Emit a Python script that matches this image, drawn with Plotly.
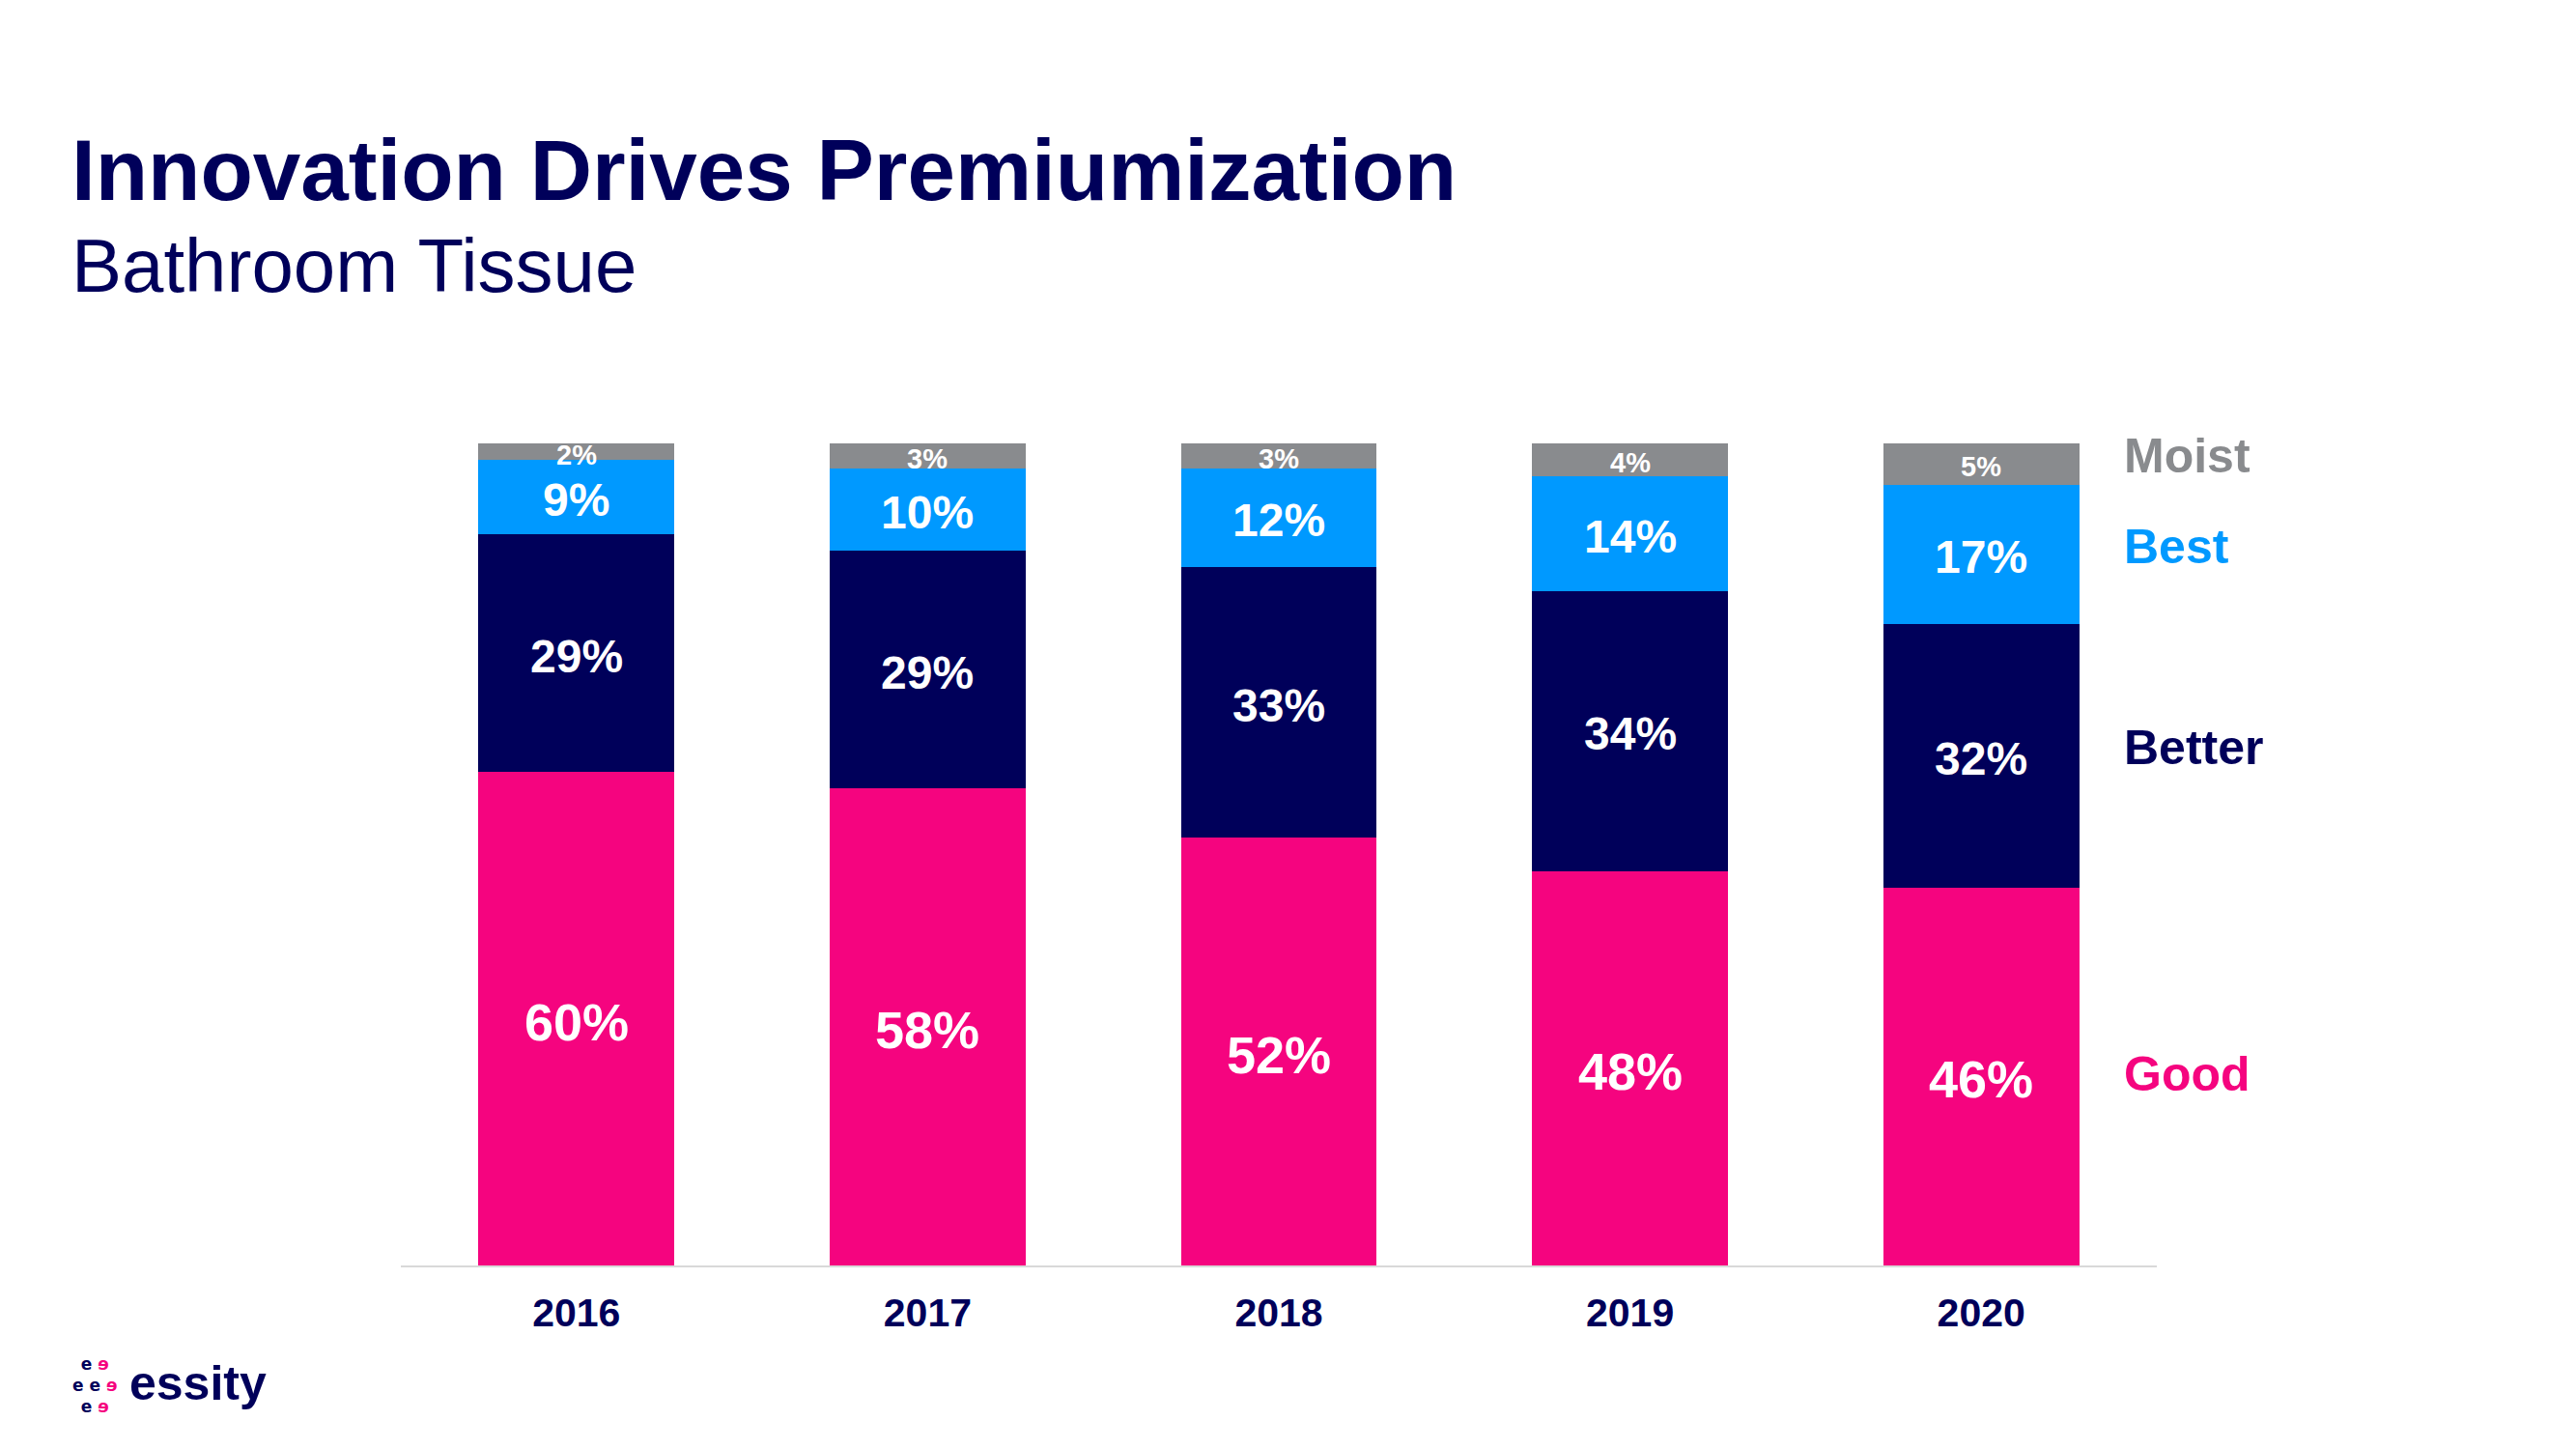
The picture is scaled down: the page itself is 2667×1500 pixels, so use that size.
import plotly.graph_objects as go

years = ["2016", "2017", "2018", "2019", "2020"]
good = [60, 58, 52, 48, 46]
better = [29, 29, 33, 34, 32]
best = [9, 10, 12, 14, 17]
moist = [2, 3, 3, 4, 5]

series_names = ["Good", "Better", "Best", "Moist"]
series_vals = [good, better, best, moist]
colors = ["#F5047F", "#00005A", "#0099FF", "#898B8E"]
label_sizes = [54, 48, 48, 29]
legend_yshift = [2, 8, 8, 8]

# page is offset by the default 8px body margin
OFF = 8
W, H = 2667 - 2 * OFF, 1500 - 2 * OFF
L, T = 415 - OFF, 459 - OFF
PLOT_W, PLOT_H = 1818, 851
R = W - L - PLOT_W
B = H - T - PLOT_H
FONT = "Liberation Sans, Arial, Helvetica, sans-serif"
NAVY = "#00005A"
PINK = "#F5047F"

def px_x(p):
    return (p - OFF - L) / PLOT_W

def px_y(p):
    return (T + PLOT_H - (p - OFF)) / PLOT_H

fig = go.Figure()

# stacked bars
for name, vals, col in zip(series_names, series_vals, colors):
    fig.add_trace(go.Bar(x=years, y=vals, name=name, marker=dict(color=col, line=dict(width=0)),
                         showlegend=False, hoverinfo="skip"))

# value labels at segment centres + right-hand series labels
base = [0] * len(years)
for name, vals, col, fs, ys in zip(series_names, series_vals, colors, label_sizes, legend_yshift):
    mids = [b + v / 2 for b, v in zip(base, vals)]
    for i, (m, v) in enumerate(zip(mids, vals)):
        fig.add_annotation(x=i, y=m, xref="x", yref="y", text=f"<b>{v}%</b>",
                           showarrow=False, xanchor="center", yanchor="middle", yshift=-3,
                           font=dict(family=FONT, size=fs, color="white"))
    fig.add_annotation(x=len(years) - 1, y=mids[-1], xref="x", yref="y", text=f"<b>{name}</b>",
                       showarrow=False, xanchor="left", yanchor="middle", xshift=146, yshift=ys,
                       font=dict(family=FONT, size=50, color=col))
    base = [b + v for b, v in zip(base, vals)]

# title and subtitle
fig.add_annotation(x=px_x(72), y=px_y(176), xref="paper", yref="paper",
                   text="<b>Innovation Drives Premiumization</b>", showarrow=False,
                   xanchor="left", yanchor="middle",
                   font=dict(family=FONT, size=89, color=NAVY))
fig.add_annotation(x=px_x(72), y=px_y(275), xref="paper", yref="paper",
                   text="Bathroom Tissue", showarrow=False,
                   xanchor="left", yanchor="middle",
                   font=dict(family=FONT, size=78, color=NAVY))

# logo: cluster of e's and wordmark
cluster = (f"<b>e <span style='color:{PINK}'>\u0258</span><br>"
           f"e e <span style='color:{PINK}'>\u0258</span><br>"
           f"e <span style='color:{PINK}'>\u0258</span></b>")
fig.add_annotation(x=px_x(98), y=px_y(1434), xref="paper", yref="paper", text=cluster,
                   showarrow=False, xanchor="center", yanchor="middle", align="center",
                   font=dict(family="DejaVu Sans", size=17, color=NAVY))
fig.add_annotation(x=px_x(132), y=px_y(1432), xref="paper", yref="paper", text="<b>essity</b>",
                   showarrow=False, xanchor="left", yanchor="middle",
                   font=dict(family=FONT, size=50, color=NAVY))

fig.update_layout(
    width=W, height=H,
    margin=dict(l=L, r=R, t=T, b=B, pad=0),
    barmode="stack", bargap=0.442,
    plot_bgcolor="white", paper_bgcolor="white",
    xaxis=dict(type="category", showline=True, linecolor="#D9D9D9", linewidth=2,
               showgrid=False, zeroline=False,
               ticks="outside", ticklen=12, tickcolor="rgba(0,0,0,0)",
               tickfont=dict(family=FONT, size=41, color=NAVY, weight="bold"),
               range=[-0.5, 4.5], fixedrange=True),
    yaxis=dict(range=[0, 100], visible=False, showgrid=False, zeroline=False, fixedrange=True),
    font=dict(family=FONT),
)

fig.write_html("out.html", config={"displayModeBar": False})
